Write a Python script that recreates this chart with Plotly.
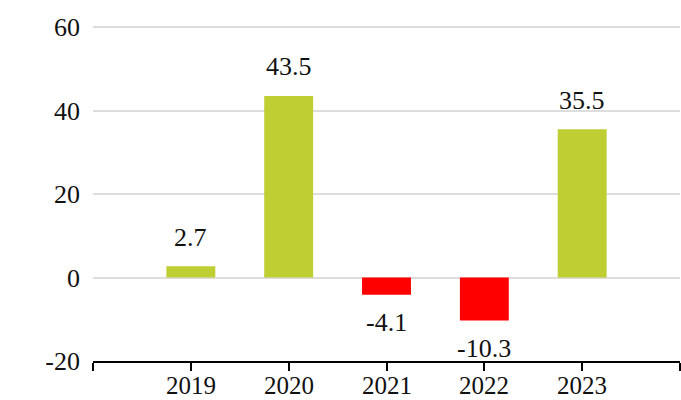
import plotly.graph_objects as go

years = [2019, 2020, 2021, 2022, 2023]
values = [2.7, 43.5, -4.1, -10.3, 35.5]
labels = ["2.7", "43.5", "-4.1", "-10.3", "35.5"]
tick_vals = [2018, 2019, 2020, 2021, 2022, 2023, 2024]
tick_text = ["2019", "2020", "2021", "2022", "2023"]
y_ticks = [-20, 0, 20, 40, 60]
y_tick_text = ["-20", "0", "20", "40", "60"]

GREEN = "#BFCE33"
RED = "#FF0000"
FONT = "Liberation Serif"
colors = [GREEN if v >= 0 else RED for v in values]

fig = go.Figure()
fig.add_trace(go.Bar(x=years, y=values, width=0.5, marker=dict(color=colors, line=dict(width=0)),
                     hoverinfo="x+y"))

for x, v, t in zip(years, values, labels):
    fig.add_annotation(x=x, y=v, text=t, showarrow=False,
                       yshift=29 if v >= 0 else -28,
                       font=dict(family=FONT, size=26, color="#111"))

# category labels under the axis
for x, t in zip(years, tick_text):
    fig.add_annotation(x=x, y=0, yref="paper", text=t, showarrow=False,
                       yanchor="top", yshift=-10, borderpad=0,
                       font=dict(family=FONT, size=25, color="#111"))

fig.update_layout(
    width=681, height=400,
    margin=dict(l=93, r=1, t=26, b=39),
    plot_bgcolor="white", paper_bgcolor="white",
    showlegend=False,
    font=dict(family=FONT, size=26, color="#111"),
    xaxis=dict(range=[2018, 2024], tickvals=tick_vals, showticklabels=False, automargin=False,
               showgrid=False, zeroline=False, showline=True, linecolor="#000", linewidth=1.5,
               ticks="outside", ticklen=8, tickwidth=1.5, tickcolor="#000"),
    yaxis=dict(range=[-20, 60.25], tickvals=y_ticks, ticktext=y_tick_text, automargin=False,
               showgrid=True, gridcolor="#dddddd", gridwidth=1.5,
               zeroline=False, showline=False, ticks="", ticklabelstandoff=12),
)

fig.write_html("out.html", config={"displayModeBar": False},
               post_script="document.body.style.margin='0';document.body.style.overflow='hidden';")
